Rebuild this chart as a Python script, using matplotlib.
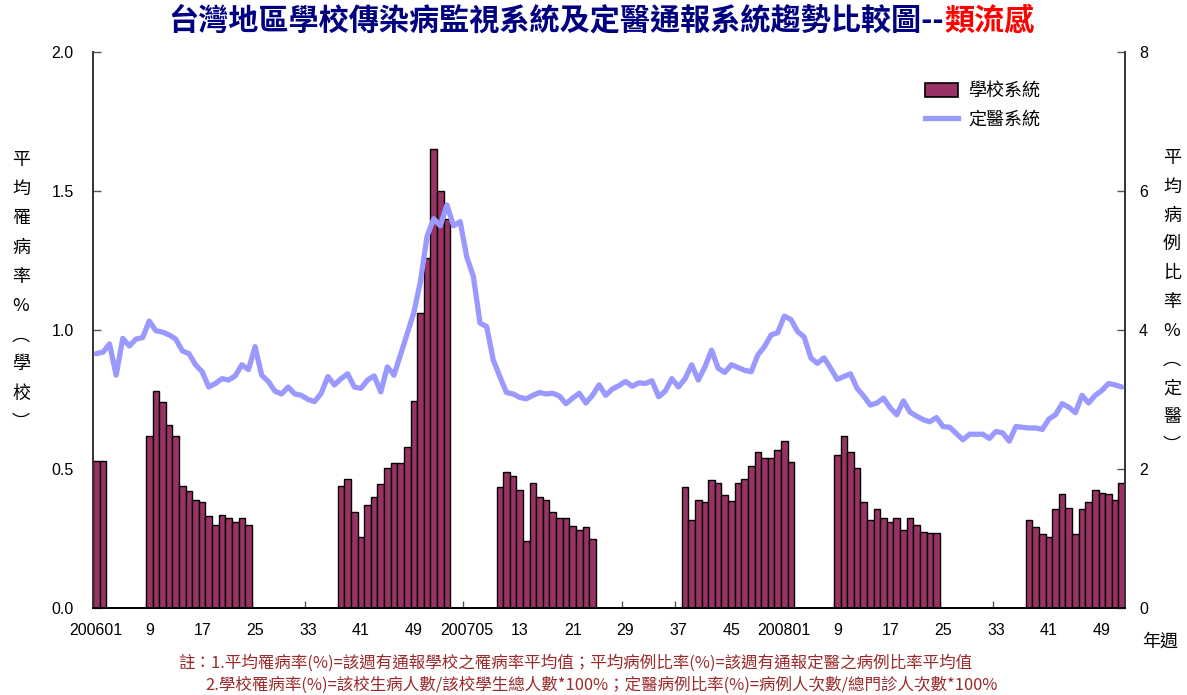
import numpy as np
import matplotlib
matplotlib.use("Agg")
import matplotlib.pyplot as plt
from matplotlib.patches import Patch
from matplotlib.lines import Line2D

nan = np.nan

# ---- data -----------------------------------------------------------------
weeks_2006 = list(range(1, 53))
weeks_2007 = list(range(1, 53))
weeks_2008 = list(range(1, 53))

# school surveillance system, average absenteeism rate (%), by week (NaN = no data)
school_2006 = [0.53, 0.53, nan, nan, nan, nan, nan, nan,
               0.62, 0.78, 0.74, 0.66, 0.62, 0.44, 0.42, 0.39, 0.38, 0.33, 0.30,
               0.335, 0.325, 0.31, 0.325, 0.30,
               nan, nan, nan, nan, nan, nan, nan, nan, nan, nan, nan, nan, nan,
               0.44, 0.465, 0.345, 0.255, 0.37, 0.40, 0.445, 0.505, 0.52, 0.52,
               0.58, 0.745, 1.06, 1.26, 1.65]
school_2007 = [1.50, 1.40, nan, nan, nan, nan, nan, nan, nan,
               0.435, 0.49, 0.475, 0.425, 0.24, 0.45, 0.40, 0.39, 0.345, 0.325,
               0.325, 0.295, 0.28, 0.29, 0.25,
               nan, nan, nan, nan, nan, nan, nan, nan, nan, nan, nan, nan, nan,
               0.435, 0.315, 0.39, 0.38, 0.46, 0.45, 0.405, 0.385, 0.45, 0.465,
               0.51, 0.56, 0.54, 0.54, 0.57]
school_2008 = [0.60, 0.525, nan, nan, nan, nan, nan, nan,
               0.55, 0.62, 0.56, 0.505, 0.38, 0.315, 0.355, 0.325, 0.31, 0.325,
               0.28, 0.325, 0.30, 0.275, 0.27, 0.27,
               nan, nan, nan, nan, nan, nan, nan, nan, nan, nan, nan, nan, nan,
               0.315, 0.29, 0.265, 0.255, 0.355, 0.41, 0.36, 0.265, 0.355, 0.38,
               0.425, 0.415, 0.41, 0.39, 0.45]

# sentinel physician system, average ILI case ratio (%), by week
sentinel_2006 = [3.66, 3.68, 3.80, 3.35, 3.88, 3.77, 3.87, 3.89, 4.13, 3.99,
                 3.97, 3.93, 3.87, 3.70, 3.66, 3.50, 3.40, 3.18, 3.23, 3.30,
                 3.28, 3.34, 3.50, 3.43, 3.76, 3.35, 3.26, 3.12, 3.08, 3.18,
                 3.08, 3.06, 3.00, 2.97, 3.09, 3.33, 3.21, 3.30, 3.37, 3.18,
                 3.16, 3.28, 3.34, 3.11, 3.47, 3.35, 3.65, 3.95, 4.25, 4.70,
                 5.35, 5.60]
sentinel_2007 = [5.50, 5.80, 5.50, 5.56, 5.05, 4.77, 4.10, 4.05, 3.57, 3.33,
                 3.10, 3.08, 3.03, 3.01, 3.06, 3.10, 3.08, 3.09, 3.05, 2.94,
                 3.02, 3.09, 2.95, 3.06, 3.21, 3.06, 3.15, 3.20, 3.26, 3.19,
                 3.24, 3.23, 3.27, 3.04, 3.12, 3.30, 3.18, 3.30, 3.50, 3.28,
                 3.47, 3.71, 3.45, 3.39, 3.50, 3.46, 3.42, 3.40, 3.64, 3.76,
                 3.93, 3.96]
sentinel_2008 = [4.20, 4.15, 3.98, 3.90, 3.60, 3.52, 3.60, 3.45, 3.29, 3.33,
                 3.37, 3.16, 3.05, 2.92, 2.95, 3.02, 2.88, 2.78, 2.98, 2.82,
                 2.76, 2.71, 2.68, 2.74, 2.61, 2.60, 2.51, 2.42, 2.50, 2.50,
                 2.50, 2.44, 2.54, 2.52, 2.40, 2.61, 2.60, 2.59, 2.59, 2.57,
                 2.72, 2.78, 2.94, 2.89, 2.81, 3.06, 2.95, 3.06, 3.13, 3.23,
                 3.21, 3.18]

tick_labels = ["200601", "9", "17", "25", "33", "41", "49",
               "200705", "13", "21", "29", "37", "45",
               "200801", "9", "17", "25", "33", "41", "49"]

left_ticks = [0.0, 0.5, 1.0, 1.5, 2.0]
right_ticks = [0, 2, 4, 6, 8]

title_main = "台灣地區學校傳染病監視系統及定醫通報系統趨勢比較圖--"
title_red = "類流感"
left_label = ["平", "均", "罹", "病", "率", "%", "︵", "學", "校", "︶"]
right_label = ["平", "均", "病", "例", "比", "率", "%", "︵", "定", "醫", "︶"]
legend_labels = ["學校系統", "定醫系統"]
note1 = "註：1.平均罹病率(%)=該週有通報學校之罹病率平均值；平均病例比率(%)=該週有通報定醫之病例比率平均值"
note2 = "2.學校罹病率(%)=該校生病人數/該校學生總人數*100%；定醫病例比率(%)=病例人次數/總門診人次數*100%"

# ---- styling ----------------------------------------------------------------
CJK = ["Noto Sans CJK TC", "DejaVu Sans"]
NUM = ["Liberation Sans", "DejaVu Sans"]
BAR_COLOR = "#993366"
LINE_COLOR = "#9999FF"
NOTE_COLOR = "#9B2A2A"

school = np.array(school_2006 + school_2007 + school_2008, dtype=float)
sentinel = np.array(sentinel_2006 + sentinel_2007 + sentinel_2008, dtype=float)
x = np.arange(len(school))

W, H = 1187, 695
fig = plt.figure(figsize=(W / 100, H / 100), dpi=100)
ax = fig.add_axes([93 / W, 87 / H, 1032 / W, 556 / H])
ax2 = ax.twinx()

ax.bar(x, school, width=1.0, color=BAR_COLOR, edgecolor="black", linewidth=1.0, zorder=2)
ax2.plot(x, sentinel, color=LINE_COLOR, linewidth=3.8, solid_capstyle="round",
         solid_joinstyle="round", zorder=3)

ax.set_xlim(-0.5, len(x) - 0.5)
ax.set_ylim(0, 2.0)
ax2.set_ylim(0, 8)

# x ticks: marks at category boundaries, labels at category centres
label_pos = x[::8]
ax.set_xticks(label_pos - 0.5)
ax.set_xticklabels([])
ax.tick_params(axis="x", which="major", direction="in", length=5, width=1, color="#555555")
ax.set_xticks(label_pos, minor=True)
ax.set_xticklabels(tick_labels, minor=True, fontfamily=NUM, fontsize=11.5)
ax.tick_params(axis="x", which="minor", length=0, pad=11)
ax.set_axisbelow(True)

ax.set_yticks(left_ticks)
ax.set_yticklabels([f"{v:.1f}" for v in left_ticks], fontfamily=NUM, fontsize=11.5)
ax.tick_params(axis="y", direction="in", length=6, width=1, pad=14, color="#555555")
ax2.set_yticks(right_ticks)
ax2.set_yticklabels([str(v) for v in right_ticks], fontfamily=NUM, fontsize=11.5)
ax2.tick_params(axis="y", direction="in", length=6, width=1, pad=10, color="#555555")

for a in (ax, ax2):
    a.spines["top"].set_visible(False)
    a.spines["left"].set_color("#333333")
    a.spines["right"].set_color("#333333")
    a.spines["bottom"].set_color("black")
    for s in a.spines.values():
        s.set_linewidth(1.2)

# legend
handles = [Patch(facecolor=BAR_COLOR, edgecolor="black", linewidth=1.2),
           Line2D([0], [0], color=LINE_COLOR, linewidth=3.8)]
leg = ax2.legend(handles, legend_labels, loc="upper left", bbox_to_anchor=(0.79, 0.975),
                 frameon=False, prop={"family": CJK, "size": 13}, handlelength=1.85,
                 handleheight=0.85, labelspacing=0.6, handletextpad=0.55)

# title (two colours)
split_x = 944 / W
fig.text(split_x, 1 - 21 / H, title_main, ha="right", va="center", color="#000080",
         fontfamily=CJK, fontsize=21.7, fontweight="bold")
fig.text(split_x, 1 - 21 / H, title_red, ha="left", va="center", color="#FF0000",
         fontfamily=CJK, fontsize=21.7, fontweight="bold")

# vertical axis titles (stacked characters)
for k, ch in enumerate(left_label):
    fig.text(21 / W, 1 - (160 + k * 29.2) / H, ch, ha="center", va="center",
             fontfamily=CJK, fontsize=13)
for k, ch in enumerate(right_label):
    fig.text(1172 / W, 1 - (158 + k * 28.8) / H, ch, ha="center", va="center",
             fontfamily=CJK, fontsize=13)

fig.text(1160 / W, 1 - 642 / H, "年週", ha="center", va="center", fontfamily=CJK, fontsize=13)

# footnotes
fig.text(178 / W, 1 - 663 / H, note1, ha="left", va="center", color=NOTE_COLOR,
         fontfamily=CJK, fontsize=11.9)
fig.text(205 / W, 1 - 685 / H, note2, ha="left", va="center", color=NOTE_COLOR,
         fontfamily=CJK, fontsize=11.9)

fig.savefig("out.png", dpi=100)
